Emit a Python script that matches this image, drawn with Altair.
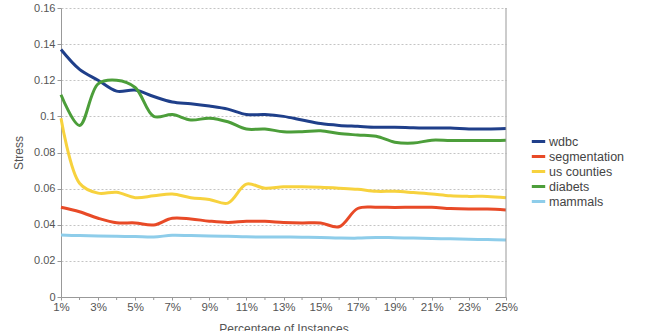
import altair as alt
import pandas as pd

pct = list(range(1, 26))
minor_ticks = list(range(2, 25, 2))
wdbc = [0.137,0.126,0.120,0.114,0.1146,0.111,0.108,0.107,0.1057,0.104,0.101,0.101,0.100,0.098,0.096,0.095,0.0945,0.094,0.094,0.0937,0.0935,0.0935,0.093,0.093,0.0933]
segmentation = [0.0497,0.0472,0.0436,0.0411,0.041,0.0399,0.0436,0.0432,0.042,0.0413,0.0419,0.0419,0.0413,0.041,0.041,0.0389,0.049,0.0497,0.0496,0.0497,0.0497,0.049,0.0487,0.0487,0.0482]
us_counties = [0.099,0.063,0.0575,0.058,0.055,0.056,0.057,0.055,0.054,0.052,0.0625,0.0602,0.061,0.061,0.0607,0.0602,0.0596,0.0585,0.0585,0.0578,0.057,0.056,0.0557,0.0557,0.055]
diabets = [0.112,0.095,0.118,0.120,0.116,0.100,0.101,0.098,0.099,0.097,0.093,0.093,0.0915,0.0915,0.092,0.0905,0.0897,0.089,0.0857,0.0852,0.0868,0.0866,0.0866,0.0866,0.0868]
mammals = [0.0343,0.034,0.0338,0.0336,0.0335,0.0332,0.0342,0.034,0.0338,0.0336,0.0333,0.0332,0.0332,0.0331,0.033,0.0327,0.0326,0.033,0.0328,0.0326,0.0324,0.0322,0.032,0.0318,0.0316]

series_names = ["wdbc", "segmentation", "us counties", "diabets", "mammals"]
series_vals = [wdbc, segmentation, us_counties, diabets, mammals]
colors = ["#1f3f8a", "#e84a27", "#f7d23e", "#4c9e3a", "#8ecdea"]

rows = []
for name, vals in zip(series_names, series_vals):
    for p, v in zip(pct, vals):
        rows.append({"pct": p, "stress": v, "series": name})
df = pd.DataFrame(rows)
df_minor = pd.DataFrame({"pct": minor_ticks})

font = "Liberation Sans"
txt = "#555555"

xscale = alt.Scale(domain=[1, 25], nice=False)
yscale = alt.Scale(domain=[0, 0.16], nice=False)

lines = alt.Chart(df).mark_line(strokeWidth=3, interpolate="catmull-rom").encode(
    x=alt.X("pct:Q", scale=xscale,
            axis=alt.Axis(title="Percentage of Instances", values=list(range(1, 26, 2)),
                          labelExpr="datum.value + '%'", labelFontSize=11.5,
                          grid=False, tickSize=3, labelPadding=1, titlePadding=11,
                          labelOverlap=False, labelFlush=False)),
    y=alt.Y("stress:Q", scale=yscale,
            axis=alt.Axis(title="Stress", values=[0,0.02,0.04,0.06,0.08,0.1,0.12,0.14,0.16],
                          format="~g", grid=True, gridDash=[2, 2], gridColor="#c4c4c4",
                          tickSize=4, labelPadding=2, titlePadding=8, labelOverlap=False)),
    color=alt.Color("series:N", sort=series_names,
                    scale=alt.Scale(domain=series_names, range=colors),
                    legend=alt.Legend(title=None, orient="none", legendX=469, legendY=125,
                                      symbolType="stroke", symbolStrokeWidth=3, symbolSize=180,
                                      labelFontSize=12.5, labelFont=font, labelColor="#444444",
                                      rowPadding=0, symbolOffset=0, labelOffset=2)),
    order=alt.Order("series:N")
)

minor = alt.Chart(df_minor).mark_rule(color="#999999", strokeWidth=1).encode(
    x=alt.X("pct:Q", scale=xscale, axis=None), y=alt.value(289), y2=alt.value(292)
)

border = alt.Chart(df).mark_rule(color="#999999", strokeWidth=1).encode(
    x=alt.X("max(pct):Q", scale=xscale, axis=None), y=alt.value(0), y2=alt.value(289)
)

chart = alt.layer(lines, minor, border).resolve_axis(x="independent").properties(
    width=445, height=289,
    padding={"left": 61, "top": 8, "right": 140, "bottom": 34},
    autosize=alt.AutoSizeParams(type="none"),
    background="white"
).configure_view(stroke=None).configure_axis(
    labelFont=font, titleFont=font, labelColor=txt, titleColor=txt,
    labelFontSize=11, titleFontSize=12, titleFontWeight="normal",
    domainColor="#999999", tickColor="#999999", labelOverlap=False
)

chart.save("out.html", embed_options={"renderer": "svg", "actions": False})
